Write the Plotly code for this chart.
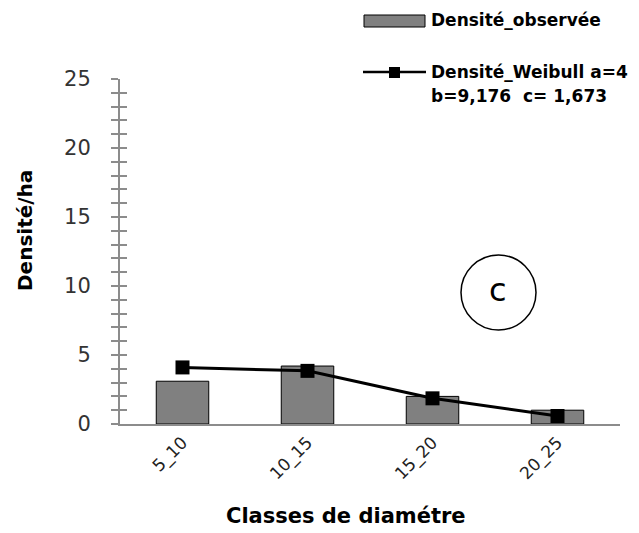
import plotly.graph_objects as go

categories = ["5_10", "10_15", "15_20", "20_25"]
observed = [3.1, 4.2, 2.0, 1.0]
weibull = [4.1, 3.85, 1.86, 0.58]
y_ticks = [0, 5, 10, 15, 20, 25]

W, H = 639, 533
L, R, T, B = 120, 19, 79, 109
PW, PH = W - L - R, H - T - B

def X(px):
    return (px - L) / PW

def Y(py):
    return (H - B - py) / PH

FONT = "DejaVu Sans"
fig = go.Figure()
fig.add_trace(go.Bar(x=categories, y=observed, width=0.42,
                     marker=dict(color="#808080", line=dict(color="#000000", width=1)),
                     showlegend=False))
fig.add_trace(go.Scatter(x=categories, y=weibull, mode="lines+markers",
                         line=dict(color="#000000", width=3),
                         marker=dict(symbol="square", size=14, color="#000000"),
                         showlegend=False))
fig.add_trace(go.Scatter(x=categories, y=observed, yaxis="y2", mode="markers",
                         marker=dict(opacity=0), hoverinfo="skip", showlegend=False))

axcol = "#8c8c8c"
fig.update_layout(
    width=W, height=H, margin=dict(l=L, r=R, t=T, b=B),
    paper_bgcolor="white", plot_bgcolor="white",
    font=dict(family=FONT, color="#333333"),
    xaxis=dict(type="category", range=[-0.5, 3.5], showline=True, linecolor=axcol, linewidth=2,
               showgrid=False, ticks="", tickangle=-45, tickfont=dict(size=17, color="#222222"),
               zeroline=False),
    yaxis=dict(range=[0, 25], tickvals=y_ticks, showline=True, linecolor=axcol, linewidth=2,
               showgrid=False, zeroline=False, ticks="outside", ticklen=7, tickcolor=axcol,
               tickwidth=1.5, tickfont=dict(size=21, color="#333333"), ticklabelstandoff=16,
               minor=dict(dtick=1, ticks="outside", ticklen=7, tickcolor=axcol, tickwidth=1.5)),
    yaxis2=dict(range=[0, 25], overlaying="y", side="left", showline=False, showgrid=False,
                zeroline=False, tickmode="linear", dtick=1, ticks="inside", ticklen=7,
                tickcolor=axcol, tickwidth=1.5, showticklabels=False),
)

shapes = [
    dict(type="circle", xref="paper", yref="paper", x0=X(461), x1=X(536), y0=Y(330), y1=Y(255),
         line=dict(color="#000000", width=1.5)),
    dict(type="rect", xref="paper", yref="paper", x0=X(364), x1=X(425), y0=Y(27), y1=Y(15),
         fillcolor="#808080", line=dict(color="#000000", width=1)),
    dict(type="line", xref="paper", yref="paper", x0=X(363), x1=X(426), y0=Y(72), y1=Y(72),
         line=dict(color="#000000", width=2.5)),
    dict(type="rect", xref="paper", yref="paper", x0=X(389), x1=X(400), y0=Y(78), y1=Y(67),
         fillcolor="#000000", line=dict(color="#000000", width=0)),
]
fig.update_layout(shapes=shapes)

ann = [
    dict(text="c", x=X(498), y=Y(290), font=dict(size=32, color="#000000")),
    dict(text="<b>Densité/ha</b>", x=X(25), y=Y(231), textangle=-90,
         font=dict(size=20, color="#000000")),
    dict(text="<b>Classes de diamétre</b>", x=X(346), y=Y(516),
         font=dict(size=21, color="#000000")),
    dict(text="<b>Densité_observée</b>", x=X(429), y=Y(20), xanchor="left",
         font=dict(size=17, color="#000000")),
    dict(text="<b>Densité_Weibull a=4</b>", x=X(429), y=Y(72), xanchor="left",
         font=dict(size=17, color="#000000")),
    dict(text="<b>b=9,176\u00a0 c= 1,673</b>", x=X(429), y=Y(96), xanchor="left",
         font=dict(size=17, color="#000000")),
]
for a in ann:
    a.setdefault("xanchor", "center")
    a.update(xref="paper", yref="paper", yanchor="middle", showarrow=False)
fig.update_layout(annotations=ann)

fig.write_html("out.html")
